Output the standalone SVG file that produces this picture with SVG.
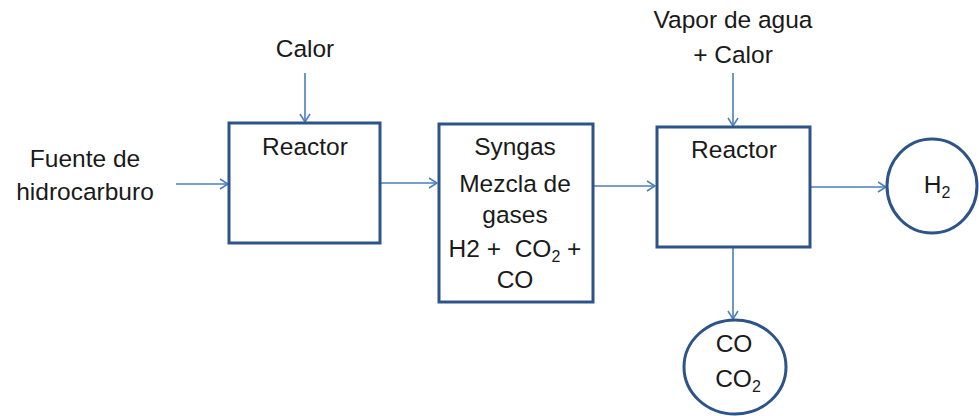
<svg xmlns="http://www.w3.org/2000/svg" width="979" height="416" viewBox="0 0 979 416">
<defs>
<marker id="ah" markerWidth="10" markerHeight="12" refX="9" refY="6" orient="auto" markerUnits="userSpaceOnUse">
<path d="M1,1 L9,6 L1,11" fill="none" stroke="#4A7EBB" stroke-width="1.5"/>
</marker>
<style>
.box{fill:#fff;stroke:#2C5489;stroke-width:3}
.ln{stroke:#4A7EBB;stroke-width:1.6;fill:none;marker-end:url(#ah)}
text{font-family:"Liberation Sans",Arial,sans-serif;font-size:24.5px;fill:#1a1a1a;text-anchor:middle}
.sub{font-size:16px}
</style>
</defs>
<rect width="979" height="416" fill="#fff"/>
<g id="connectors">
<line class="ln" x1="176" y1="184" x2="228" y2="184"/>
<line class="ln" x1="305" y1="73" x2="305" y2="122"/>
<line class="ln" x1="381" y1="183" x2="437" y2="183"/>
<line class="ln" x1="593" y1="186" x2="655" y2="186"/>
<line class="ln" x1="733" y1="73" x2="733" y2="126"/>
<line class="ln" x1="811" y1="187" x2="886" y2="187"/>
<line class="ln" x1="733" y1="248" x2="733" y2="319"/>
</g>
<g id="fuente"><text x="85" y="167">Fuente de</text><text x="85" y="200">hidrocarburo</text></g>
<g id="calor1"><text x="305" y="57">Calor</text></g>
<g id="vapor"><text x="733" y="28">Vapor de agua</text><text x="733" y="63">+ Calor</text></g>
<g id="reactor1"><rect class="box" x="229" y="123" width="151" height="120"/><text x="305" y="155">Reactor</text></g>
<g id="syngas"><rect class="box" x="439" y="124" width="154" height="178"/>
<text x="515" y="155">Syngas</text><text x="515" y="192">Mezcla de</text><text x="515" y="223">gases</text>
<text x="515" y="257" xml:space="preserve">H2 +  CO<tspan class="sub" dy="5">2</tspan><tspan dy="-5"> +</tspan></text>
<text x="515" y="288">CO</text></g>
<g id="reactor2"><rect class="box" x="657" y="127" width="153" height="120"/><text x="734" y="158">Reactor</text></g>
<g id="h2"><ellipse class="box" cx="932" cy="186" rx="45" ry="47"/><text x="937" y="193">H<tspan class="sub" dy="5">2</tspan></text></g>
<g id="co"><ellipse class="box" cx="735" cy="367" rx="51" ry="47"/><text x="734" y="352">CO</text><text x="738" y="387">CO<tspan class="sub" dy="5">2</tspan></text></g>
</svg>
